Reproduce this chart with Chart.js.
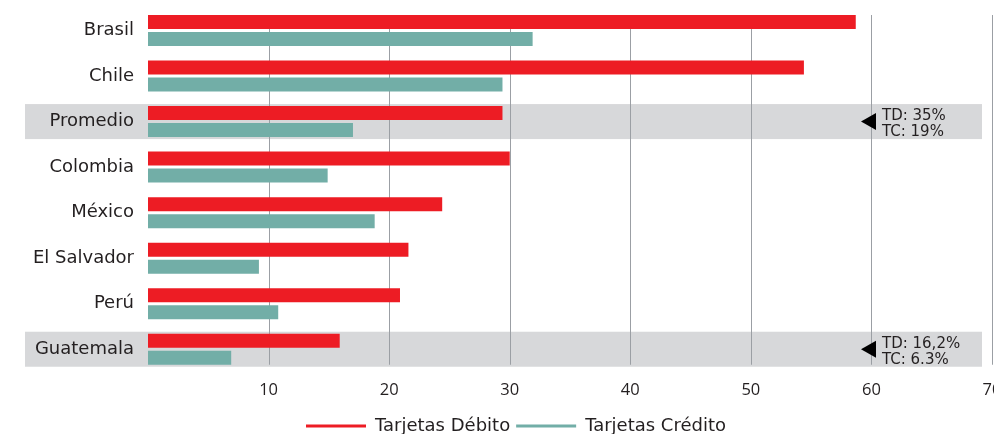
<!DOCTYPE html>
<html>
<head>
<meta charset="utf-8">
<script src="https://cdn.jsdelivr.net/npm/chart.js@4.4.0/dist/chart.umd.min.js"></script>
<style>
  html, body { margin: 0; padding: 0; overflow: hidden; background: #ffffff; width: 994px; height: 434px; }
  #wrap { position: absolute; left: 0; top: 0; width: 1010px; height: 445px; }
</style>
</head>
<body>
<div id="wrap"><canvas id="c" width="1010" height="445"></canvas></div>
<script>
const categories = ['Brasil', 'Chile', 'Promedio', 'Colombia', 'México', 'El Salvador', 'Perú', 'Guatemala'];
const debitValues = [58.7, 54.4, 29.4, 30.0, 24.4, 21.6, 20.9, 15.9];
const creditValues = [31.9, 29.4, 17.0, 14.9, 18.8, 9.2, 10.8, 6.9];
const seriesNames = ['Tarjetas Débito', 'Tarjetas Crédito'];
const xTickValues = [10, 20, 30, 40, 50, 60, 70];
const highlightCategories = ['Promedio', 'Guatemala'];
const noteCategories = ['Promedio', 'Guatemala'];
const noteLines = [['TD: 35%', 'TC: 19%'], ['TD: 16,2%', 'TC: 6.3%']];

const FONT = '"DejaVu Sans", sans-serif';
const TEXT = '#231f20';

const decorPlugin = {
  id: 'decor',
  afterLayout(chart) {
    // shift legend band so items are centred like the reference
    if (chart.legend) { chart.legend.left = 40; }
  },
  beforeDraw(chart) {
    const ctx = chart.ctx, ca = chart.chartArea;
    const x = chart.scales.x, y = chart.scales.y;
    ctx.save();
    ctx.fillStyle = '#d7d8da';
    highlightCategories.forEach(cat => {
      const i = categories.indexOf(cat);
      const cy = y.getPixelForValue(i);
      ctx.fillRect(ca.left - 123, cy - 17.5, (ca.right - 10) - (ca.left - 123), 35);
    });
    const top = y.getPixelForValue(0) - 15.5;
    const bottom = y.getPixelForValue(categories.length - 1) + 15.5;
    ctx.strokeStyle = '#9b9fa4';
    ctx.lineWidth = 1;
    xTickValues.forEach(v => {
      const px = Math.round(x.getPixelForValue(v)) + 0.5;
      ctx.beginPath();
      ctx.moveTo(px, top);
      ctx.lineTo(px, bottom);
      ctx.stroke();
    });
    ctx.restore();
  },
  afterDatasetsDraw(chart) {
    const ctx = chart.ctx, ca = chart.chartArea;
    const y = chart.scales.y;
    ctx.save();
    noteCategories.forEach((cat, k) => {
      const i = categories.indexOf(cat);
      const cy = y.getPixelForValue(i);
      const tipX = ca.right - 131;
      ctx.fillStyle = '#000000';
      ctx.beginPath();
      ctx.moveTo(tipX, cy);
      ctx.lineTo(tipX + 15, cy - 8.5);
      ctx.lineTo(tipX + 15, cy + 8.5);
      ctx.closePath();
      ctx.fill();
      ctx.fillStyle = TEXT;
      ctx.font = '15px ' + FONT;
      ctx.textAlign = 'left';
      ctx.textBaseline = 'alphabetic';
      ctx.fillText(noteLines[k][0], tipX + 21, cy - 1.5);
      ctx.fillText(noteLines[k][1], tipX + 21, cy + 14.5);
    });
    ctx.restore();
  }
};

new Chart(document.getElementById('c'), {
  type: 'bar',
  data: {
    labels: categories,
    datasets: [
      { label: seriesNames[0], data: debitValues, backgroundColor: '#ed1c24', borderWidth: 0 },
      { label: seriesNames[1], data: creditValues, backgroundColor: '#72aea7', borderWidth: 0 }
    ]
  },
  options: {
    responsive: false,
    animation: false,
    indexAxis: 'y',
    layout: { padding: { left: 0, right: 18, top: 7.75, bottom: 0 } },
    datasets: { bar: { categoryPercentage: 0.747, barPercentage: 0.8235 } },
    scales: {
      x: {
        type: 'linear',
        min: 0, max: 70,
        grid: { display: false, drawTicks: false },
        border: { display: false },
        afterBuildTicks(scale) { scale.ticks = xTickValues.map(v => ({ value: v })); },
        afterFit(scale) { scale.height = 39; scale.paddingLeft = 0; scale.paddingRight = 0; },
        ticks: {
          padding: 8,
          color: TEXT,
          font: { family: '"Open Sans", sans-serif', size: 16.5 },
          maxRotation: 0,
          callback: v => String(v)
        }
      },
      y: {
        type: 'category',
        grid: { display: false, drawTicks: false },
        border: { display: false },
        afterFit(scale) { scale.width = 148; scale.paddingTop = 0; scale.paddingBottom = 0; },
        ticks: { padding: 14, color: TEXT, font: { family: FONT, size: 18 } }
      }
    },
    plugins: {
      legend: {
        position: 'bottom',
        labels: {
          boxWidth: 60, boxHeight: 3, padding: 6,
          color: TEXT,
          font: { family: FONT, size: 18 }
        }
      },
      tooltip: { enabled: false }
    }
  },
  plugins: [decorPlugin]
});
</script>
</body>
</html>
